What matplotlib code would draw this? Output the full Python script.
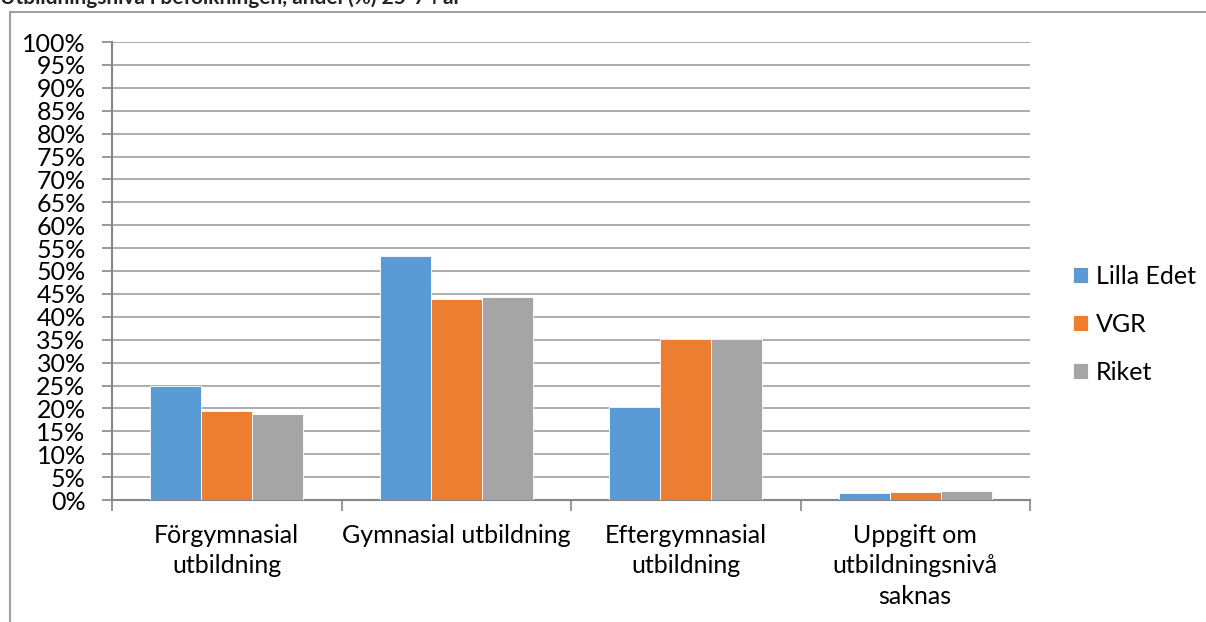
import numpy as np
import matplotlib.pyplot as plt
from matplotlib.patches import Rectangle

plt.rcParams['font.family'] = ['Lato', 'DejaVu Sans']

title = 'Utbildningsnivå i befolkningen, andel (%) 25-74 år'
categories = ['Förgymnasial\nutbildning', 'Gymnasial utbildning',
              'Eftergymnasial\nutbildning', 'Uppgift om\nutbildningsnivå\nsaknas']
series_names = ['Lilla Edet', 'VGR', 'Riket']
lilla_edet = [24.8, 53.3, 20.3, 1.6]
vgr = [19.4, 43.9, 35.1, 1.8]
riket = [18.8, 44.3, 35.1, 2.0]
colors = ['#5B9BD5', '#ED7D31', '#A5A5A5']

W, H = 1206, 622
fig = plt.figure(figsize=(W / 100, H / 100), dpi=100)

# outer chart frame (partly cut off like the source)
fig.patches.append(Rectangle((10 / W, -0.1), 1.2, 1 - 12 / H + 0.1, transform=fig.transFigure,
                             fill=False, edgecolor='#A0A0A0', linewidth=1.5))
fig.text(0, 1 - 4 / H, title, fontsize=15, fontweight='bold', va='baseline', ha='left',
         color='#222222')

ax = fig.add_axes([112 / W, 1 - 500 / H, (1030 - 112) / W, (500 - 42) / H])
x = np.arange(len(categories))
w = 0.222
for i, (vals, name) in enumerate(zip([lilla_edet, vgr, riket], series_names)):
    ax.bar(x + (i - 1) * w, vals, width=w, color=colors[i], label=name,
           edgecolor='white', linewidth=0.6, zorder=3)

ax.set_xlim(-0.5, len(categories) - 0.5)
ax.set_ylim(0, 100)
ax.set_yticks(np.arange(0, 101, 5))
ax.set_yticklabels([f'{v}%' for v in range(0, 101, 5)], fontsize=18)
ax.yaxis.grid(True, color='#A6A6A6', linewidth=1.3, zorder=0)
ax.set_axisbelow(True)

ax.set_xticks(x)
ax.set_xticklabels(categories, fontsize=18, linespacing=1.4)
ax.tick_params(axis='x', length=0, pad=17)
ax.set_xticks(np.arange(-0.5, len(categories)), minor=True)
ax.tick_params(axis='x', which='minor', length=8, width=1.2, color='#868686')
ax.tick_params(axis='y', length=7, width=1.2, color='#868686', pad=12)

for s in ['top', 'right']:
    ax.spines[s].set_visible(False)
for s in ['left', 'bottom']:
    ax.spines[s].set_color('#868686')
    ax.spines[s].set_linewidth(1.5)

ax.legend(loc='center left', bbox_to_anchor=(1.047, 0.384), frameon=False, fontsize=18,
          borderpad=0, borderaxespad=0,
          handlelength=0.6, handleheight=0.6, handletextpad=0.3, labelspacing=1.0)

fig.savefig('out.png', dpi=100)
